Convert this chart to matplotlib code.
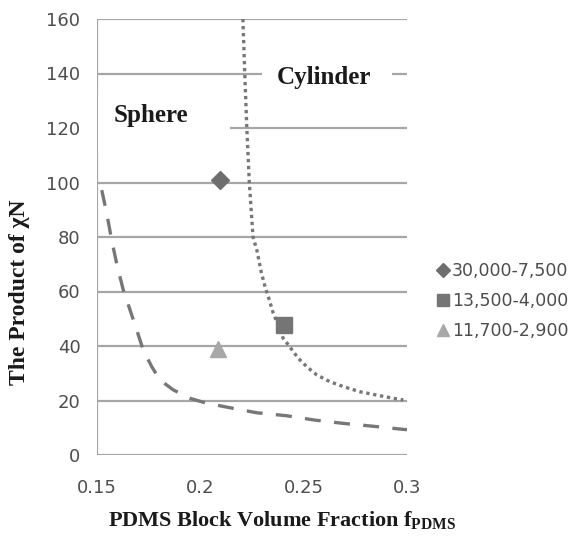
import matplotlib
matplotlib.use('Agg')
import matplotlib.pyplot as plt
from matplotlib.patches import Rectangle

plt.rcParams['mathtext.fontset'] = 'custom'
plt.rcParams['mathtext.rm'] = 'Liberation Serif:bold'
plt.rcParams['mathtext.bf'] = 'Liberation Serif:bold'
plt.rcParams['mathtext.it'] = 'Liberation Serif:italic:bold'

# phase boundary curves
sphere_x = [0.1523, 0.1547, 0.1571, 0.1595, 0.1627, 0.166, 0.1692, 0.1724, 0.1765,
            0.1805, 0.1869, 0.195, 0.2031, 0.216, 0.2273, 0.2418, 0.2555, 0.2692,
            0.2829, 0.2982, 0.3]
sphere_y = [97.2, 88.7, 78.9, 70.3, 60.6, 53.2, 45.9, 38.5, 32.4,
            27.5, 23.9, 20.8, 19.0, 17.1, 15.5, 14.4, 12.8, 11.6,
            10.6, 9.4, 9.3]

cyl_x = [0.2206, 0.2215, 0.2225, 0.2237, 0.2255, 0.2274, 0.2295, 0.2313, 0.2329, 0.2353,
         0.2385, 0.2401, 0.2426, 0.245, 0.2474, 0.2515, 0.2563, 0.2627, 0.2692,
         0.2773, 0.2853, 0.2934, 0.2982]
cyl_y = [160, 140, 120, 100, 80, 75, 67, 61.8, 58.1, 52,
         46, 42.8, 40.4, 37.9, 35.5, 32.4, 29.4, 26.9, 25.1,
         23.2, 22.0, 20.8, 20.2]

# samples
labels = ['30,000-7,500', '13,500-4,000', '11,700-2,900']
sample_x = [0.2095, 0.2405, 0.2086]
sample_y = [101, 47.6, 39]
markers = ['D', 's', '^']
mcolors = ['#6e6e6e', '#757575', '#a8a8a8']
msizes = [9, 11, 11]

yticks = [0, 20, 40, 60, 80, 100, 120, 140, 160]
xticks = [0.15, 0.2, 0.25, 0.3]
xticklabels = ['0.15', '0.2', '0.25', '0.3']

grid_c = '#a6a6a6'

fig = plt.figure(figsize=(5.74, 5.38), dpi=100)
ax = fig.add_axes([97/574, 1 - 455/538, 310/574, 436/538])

for v in yticks:
    ax.axhline(v, color=grid_c, lw=1.6, zorder=1)
ax.axvline(0.15, color=grid_c, lw=1.6, zorder=1)

# white boxes behind the region names
ax.add_patch(Rectangle((0.1503, 111), 0.2144 - 0.1503, 21, fc='white', ec='none', zorder=2))
ax.add_patch(Rectangle((0.2298, 133), 0.2927 - 0.2298, 14, fc='white', ec='none', zorder=2))
ax.text(0.176, 124.5, 'Sphere', family='Liberation Serif', weight='bold',
        fontsize=18, color='#1a1a1a', ha='center', va='center', zorder=3)
ax.text(0.2598, 138.5, 'Cylinder', family='Liberation Serif', weight='bold',
        fontsize=18, color='#1a1a1a', ha='center', va='center', zorder=3)

ax.plot(sphere_x, sphere_y, color='#777777', lw=2.4, dashes=(4.8, 4), zorder=4)
ax.plot(cyl_x, cyl_y, color='#777777', lw=2.4, dashes=(1, 1.1), zorder=4)

for i in range(3):
    ax.plot(sample_x[i], sample_y[i], linestyle='none', marker=markers[i],
            color=mcolors[i], markersize=msizes[i], label=labels[i], zorder=5)

ax.set_xlim(0.15, 0.3)
ax.set_ylim(0, 160)
ax.set_xticks(xticks)
ax.set_xticklabels(xticklabels)
ax.set_yticks(yticks)
for s in ax.spines.values():
    s.set_visible(False)
ax.tick_params(length=0, labelsize=13, colors='#4d4d4d')
ax.tick_params(axis='y', pad=12)
ax.tick_params(axis='x', pad=17)

ax.set_ylabel('The Product of χN', family='Liberation Serif', weight='bold',
              fontsize=17, color='#1a1a1a')
ax.yaxis.set_label_coords(-0.216, 0.374)
ax.set_xlabel(r'PDMS Block Volume Fraction $\mathbf{f_{PDMS}}$', family='Liberation Serif',
              weight='bold', fontsize=16, color='#1a1a1a', va='center')
ax.xaxis.set_label_coords(0.597, -0.149)

leg = ax.legend(loc='center left', bbox_to_anchor=(437/574, 1 - 301/538),
                bbox_transform=fig.transFigure, frameon=False, fontsize=12.5,
                handlelength=0.7, handletextpad=0.15, labelspacing=0.7,
                borderpad=0, borderaxespad=0, markerscale=0.75)
for t in leg.get_texts():
    t.set_color('#4d4d4d')

fig.savefig('out.png', dpi=100)
